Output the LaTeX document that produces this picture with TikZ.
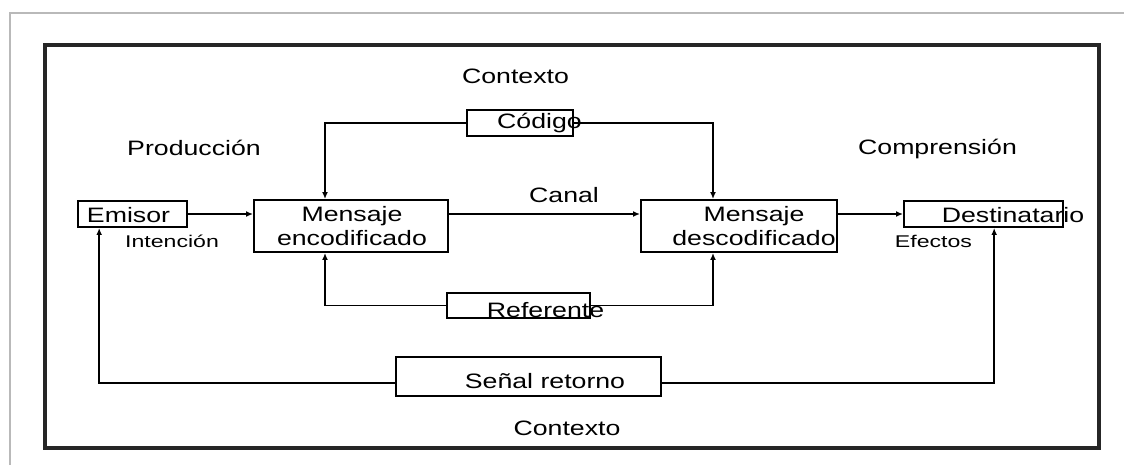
\documentclass[tikz,border=0pt]{standalone}
\usepackage{fontspec}
\setmainfont{Liberation Sans}
\usetikzlibrary{arrows.meta}
\begin{document}
\begin{tikzpicture}[x=0.03cm,y=-0.03cm,
    caja/.style={draw,line width=1.6pt,inner sep=0pt},
    txt/.style={inner sep=0pt,anchor=base,xscale=1.28,
        font=\fontsize{17.8}{20.5}\selectfont,align=center},
    chico/.style={inner sep=0pt,anchor=base,xscale=1.36,
        font=\fontsize{14.5}{17}\selectfont},
    flecha/.style={line width=1.3pt,-{Latex[length=6pt,width=5pt]}}]
    \useasboundingbox (0,0) rectangle (1124,465);

    %% frames
    \draw[gray!55,line width=1.5pt] (10,465) -- (10,13) -- (1124,13);
    \draw[black!85,line width=2.6pt] (45,45) rectangle (1099,448);

    %% boxes
    \node[caja,minimum width=3.27cm,minimum height=0.78cm] (emisor) at (132.5,214) {};
    \node[caja,minimum width=5.82cm,minimum height=1.56cm] (menc) at (351,226) {};
    \node[caja,minimum width=5.88cm,minimum height=1.56cm] (mdesc) at (739,226) {};
    \node[caja,minimum width=4.77cm,minimum height=0.78cm] (destino) at (983.5,214) {};
    \node[caja,minimum width=3.18cm,minimum height=0.78cm] (codigo) at (520,123) {};
    \node[caja,minimum width=4.29cm,minimum height=0.75cm] (referente) at (518.5,305.5) {};
    \node[caja,minimum width=7.95cm,minimum height=1.17cm] (senal) at (528.5,376.5) {};

    %% texts
    \node[txt] (ctx-top) at (515.5,83) {Contexto};
    \node[txt] (produccion) at (194,155) {Producción};
    \node[txt] (comprension) at (937.5,154) {Comprensión};
    \node[txt] (canal) at (564,202) {Canal};
    \node[txt] (emisor-t) at (128.5,222) {Emisor};
    \node[txt,anchor=center] (menc-t) at (352,226.5) {Mensaje\\encodificado};
    \node[txt,anchor=center] (mdesc-t) at (754,226.5) {Mensaje\\descodificado};
    \node[txt] (destino-t) at (1013,222) {Destinatario};
    \node[txt] (codigo-t) at (539.5,128) {Código};
    \node[txt] (referente-t) at (545.5,317) {Referente};
    \node[txt] (senal-t) at (545,388) {Señal retorno};
    \node[txt] (ctx-bot) at (567,435) {Contexto};
    \node[chico] (intencion) at (172,247) {Intención};
    \node[chico] (efectos) at (933.5,247) {Efectos};

    %% connectors
    \draw[flecha] (emisor.east) -- (emisor.east -| menc.west);
    \draw[flecha] (menc.east |- emisor.east) -- (mdesc.west |- emisor.east);
    \draw[flecha] (mdesc.east |- destino.west) -- (destino.west);
    \draw[flecha] (codigo.west) -| ([xshift=-0.78cm]menc.north);
    \draw[flecha] (codigo.east) -| ([xshift=-0.78cm]mdesc.north);
    \draw[flecha] (referente.west) -| ([xshift=-0.78cm]menc.south);
    \draw[flecha] (referente.east) -| ([xshift=-0.78cm]mdesc.south);
    \draw[flecha] ([yshift=-0.2cm]senal.west) -| ([xshift=-1.0cm]emisor.south);
    \draw[flecha] ([yshift=-0.2cm]senal.east) -| ([xshift=0.32cm]destino.south);
\end{tikzpicture}
\end{document}
